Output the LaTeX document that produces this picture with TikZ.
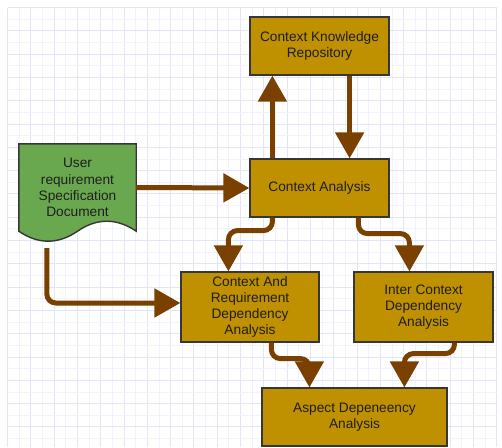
\documentclass[tikz,border=0pt]{standalone}
\usepackage{fontspec}
\setmainfont{Liberation Sans}
\usetikzlibrary{arrows.meta,calc}
\definecolor{boxfill}{HTML}{BF9000}
\definecolor{boxline}{HTML}{363636}
\definecolor{docfill}{HTML}{6AA84F}
\definecolor{arrowbrown}{HTML}{7A4000}
\definecolor{gridminor}{HTML}{F1F1FF}
\definecolor{gridmajor}{HTML}{E4E4F8}
\definecolor{txt}{HTML}{1E1E1E}
\tikzset{
  box/.style={rectangle, draw=boxline, line width=1.2pt, fill=boxfill, inner sep=0pt,
    align=center, text=txt, font=\fontsize{13.7}{16.2}\selectfont},
  docnode/.style={rectangle, inner sep=0pt, align=center, text=txt,
    font=\fontsize{13.7}{16.2}\selectfont, minimum width=117pt, minimum height=87pt},
  docshape/.style={draw=boxline, line width=1.4pt, fill=docfill},
  flow/.style={draw=arrowbrown, line width=5pt, rounded corners=9pt,
    -{Triangle[width=28pt,length=26pt]}, arrowbrown},
}
\begin{document}
\begin{tikzpicture}[x=1pt,y=-1pt]
\useasboundingbox (0,0) rectangle (502,447);
\fill[white] (0,0) rectangle (502,447);
% grid
\foreach \i in {0,...,42} {
  \pgfmathtruncatemacro{\m}{mod(\i,2)}
  \ifnum\m=0
    \draw[gridmajor, line width=0.9pt] (7.5+\i*11.65,7.5) -- (7.5+\i*11.65,447);
  \else
    \draw[gridminor, line width=0.9pt] (7.5+\i*11.65,7.5) -- (7.5+\i*11.65,447);
  \fi
}
\foreach \j in {0,...,37} {
  \pgfmathtruncatemacro{\m}{mod(\j,2)}
  \ifnum\m=0
    \draw[gridmajor, line width=0.9pt] (7.5,7.5+\j*11.65) -- (497,7.5+\j*11.65);
  \else
    \draw[gridminor, line width=0.9pt] (7.5,7.5+\j*11.65) -- (497,7.5+\j*11.65);
  \fi
}
% nodes
\node[box, minimum width=139pt, minimum height=58pt] (ckr) at (319.5,46) {Context Knowledge\\Repository};
\node[box, minimum width=139pt, minimum height=58pt] (ca) at (319.5,188) {Context Analysis};
\node[box, minimum width=138pt, minimum height=70pt] (carda) at (250,307) {Context And\\Requirement\\Dependency\\Analysis};
\node[box, minimum width=139pt, minimum height=70pt] (icda) at (423.5,307) {Inter Context\\Dependency\\Analysis};
\node[box, minimum width=185pt, minimum height=58pt] (asp) at (354.5,417) {Aspect Depeneency\\Analysis};
\node[docnode] (doc) at (77.5,187.5) {};
\draw[docshape] (doc.north west) -- (doc.north east) -- (doc.south east)
  .. controls +(-19.3,-13.3) and +(19.3,-13.3) .. (doc.south)
  .. controls +(-19.3,13.3) and +(19.3,13.3) .. (doc.south west) -- cycle;
\node[docnode] (doctext) at (doc.center) {User\\requirement\\Specification\\Document};
% connectors
\draw[flow] ([xshift=23pt]ca.north west) -- ([xshift=23pt]ckr.south west);
\draw[flow] ([xshift=-40pt]ckr.south east) -- ([xshift=-40pt]ca.north east);
\draw[flow] (doc.east) -- (ca.west);
\draw[flow] ([xshift=23pt]ca.south west) -- ++(0,13) -| ([xshift=48pt]carda.north west);
\draw[flow] ([xshift=109pt]ca.south west) -- ++(0,16) -| ([xshift=56pt]icda.north west);
\coordinate (docout) at ($(doc.south west)+(28,17)$);
\draw[flow] (docout) |- ($(carda.west)+(0,-4)$);
\draw[flow] ([xshift=91pt]carda.south west) -- ++(0,16) -| ([xshift=48pt]asp.north west);
\draw[flow] ([xshift=101pt]icda.south west) -- ++(0,11) -| ([xshift=143pt]asp.north west);
\end{tikzpicture}
\end{document}
